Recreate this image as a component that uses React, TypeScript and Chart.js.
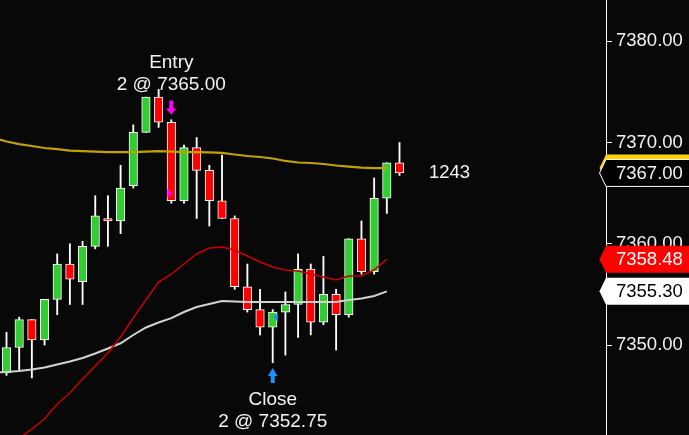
import React, { useEffect, useRef } from "react";
import { Chart, registerables } from "chart.js";

Chart.register(...registerables);

// ---- Data ----
const opens = [
  7347.25, 7349.75, 7352.5, 7350.5, 7354.5, 7358.0, 7356.25, 7359.75, 7362.5, 7362.25,
  7365.75, 7371.0, 7374.5, 7372.0, 7364.25, 7369.5, 7367.25, 7364.25, 7362.5, 7355.75,
  7353.5, 7351.75, 7353.25, 7354.0, 7357.5, 7352.25, 7355.0, 7353.0, 7360.5, 7357.25,
  7364.5, 7368.0,
];
const highs = [
  7351.25, 7352.75, 7352.5, 7354.5, 7359.0, 7360.0, 7360.25, 7364.75, 7364.75, 7367.75,
  7371.75, 7374.5, 7375.25, 7372.25, 7369.75, 7370.5, 7367.75, 7368.75, 7362.75, 7358.0,
  7355.5, 7353.5, 7355.25, 7359.0, 7358.0, 7358.75, 7355.5, 7360.5, 7362.25, 7366.5,
  7368.0, 7370.0,
];
const lows = [
  7347.0, 7347.5, 7346.75, 7350.0, 7353.0, 7354.0, 7354.0, 7359.5, 7359.75, 7361.0,
  7365.5, 7371.0, 7371.5, 7364.0, 7364.0, 7362.5, 7361.75, 7362.5, 7355.5, 7353.25,
  7351.0, 7348.25, 7349.0, 7350.75, 7351.0, 7352.0, 7349.5, 7352.75, 7357.0, 7357.0,
  7363.0, 7366.75,
];
const closes = [
  7349.75, 7352.5, 7350.5, 7354.5, 7358.0, 7356.5, 7359.75, 7362.75, 7362.25, 7365.5,
  7371.0, 7374.5, 7372.0, 7364.25, 7369.5, 7367.25, 7364.25, 7362.5, 7355.75, 7353.5,
  7351.75, 7353.25, 7354.0, 7357.5, 7352.25, 7355.0, 7353.0, 7360.5, 7357.25, 7364.5,
  7368.0, 7367.0,
];

// Moving averages, first value belongs to bar index -1 (just left of the view)
const maStartIndex = -1;
const yellowMA = [
  7370.45, 7370.1, 7369.85, 7369.66, 7369.46, 7369.35, 7369.21, 7369.16, 7369.11, 7369.06,
  7369.06, 7369.06, 7369.11, 7369.16, 7369.11, 7369.06, 7369.06, 7369.02, 7368.97, 7368.82,
  7368.67, 7368.57, 7368.42, 7368.18, 7368.03, 7367.98, 7367.88, 7367.73, 7367.63, 7367.53,
  7367.48, 7367.48,
];
const redMA = [
  7339.4, 7340.02, 7340.81, 7341.7, 7342.69, 7344.17, 7345.26, 7346.64, 7347.92, 7349.21,
  7350.79, 7352.67, 7354.44, 7356.22, 7357.01, 7358.0, 7358.99, 7359.58, 7359.68, 7359.38,
  7358.79, 7358.2, 7357.7, 7357.41, 7357.31, 7357.01, 7356.72, 7356.42, 7356.82, 7356.82,
  7357.41, 7358.48,
];
const whiteMA = [
  7347.28, 7347.33, 7347.43, 7347.58, 7347.78, 7348.07, 7348.37, 7348.71, 7349.16, 7349.65,
  7350.17, 7350.99, 7351.73, 7352.22, 7352.66, 7353.26, 7353.75, 7354.05, 7354.35, 7354.3,
  7354.25, 7354.25, 7354.25, 7354.25, 7354.25, 7354.25, 7354.25, 7354.25, 7354.44, 7354.59,
  7354.84, 7355.3,
];

const yTickStep = 10;
const yMin = 7341.11;
const yMax = 7384.08;
const xMin = -0.513;
const xMax = 47.29;

const entryTrade = { label: "Entry", index: 13, qty: 2, price: 7365.0 };
const closeTrade = { label: "Close", index: 21, qty: 2, price: 7352.75 };
const counterLabel = "1243";

// ---- Styles ----
const BG = "#080808";
const UP = "#32cd32";
const DOWN = "#ff0000";
const YELLOW_LINE = "#c2a200";
const YELLOW_TAG = "#ffd200";
const RED_LINE = "#c80000";
const WHITE_LINE = "#d2d2d2";
const FONT = '"Liberation Sans", Arial, Helvetica, sans-serif';

const W = 689;
const H = 435;
const AXIS_W = 83;

const maPoints = (arr: number[]) => arr.map((v, i) => ({ x: i + maStartIndex, y: v }));

const annotPlugin = {
  id: "annots",
  beforeDraw(chart: any) {
    const { ctx } = chart;
    ctx.save();
    ctx.fillStyle = BG;
    ctx.fillRect(0, 0, chart.width, chart.height);
    ctx.restore();
  },
  afterDatasetsDraw(chart: any) {
    const { ctx } = chart;
    const xs = chart.scales.x;
    const ys = chart.scales.y;
    ctx.save();

    // Entry marker
    {
      const cx = xs.getPixelForValue(entryTrade.index);
      const tip = ys.getPixelForValue(highs[entryTrade.index]) - 5.3;
      ctx.fillStyle = "#ff00ff";
      ctx.fillRect(cx - 2, tip - 14, 4, 8.5);
      ctx.beginPath();
      ctx.moveTo(cx - 5.3, tip - 6);
      ctx.lineTo(cx + 5.3, tip - 6);
      ctx.lineTo(cx, tip);
      ctx.closePath();
      ctx.fill();
      // triangle at entry price
      const py = ys.getPixelForValue(entryTrade.price);
      ctx.beginPath();
      ctx.moveTo(cx - 4, py - 4.5);
      ctx.lineTo(cx + 1.2, py);
      ctx.lineTo(cx - 4, py + 4.5);
      ctx.closePath();
      ctx.fill();
      ctx.fillStyle = "#f2f2f2";
      ctx.font = `19px ${FONT}`;
      ctx.textAlign = "center";
      ctx.textBaseline = "middle";
      ctx.fillText(entryTrade.label, cx, tip - 51.3);
      ctx.fillText(`${entryTrade.qty} @ ${entryTrade.price.toFixed(2)}`, cx, tip - 30);
    }

    // Close marker
    {
      const cx = xs.getPixelForValue(closeTrade.index);
      const tip = ys.getPixelForValue(lows[closeTrade.index]) + 5.3;
      ctx.fillStyle = "#1e90ff";
      ctx.beginPath();
      ctx.moveTo(cx - 4.8, tip + 8);
      ctx.lineTo(cx + 4.8, tip + 8);
      ctx.lineTo(cx, tip);
      ctx.closePath();
      ctx.fill();
      ctx.fillRect(cx - 2, tip + 7.5, 4, 7.5);
      const py = ys.getPixelForValue(closeTrade.price);
      ctx.beginPath();
      ctx.moveTo(cx + 5, py - 4.5);
      ctx.lineTo(cx + 0.6, py);
      ctx.lineTo(cx + 5, py + 4.5);
      ctx.closePath();
      ctx.fill();
      ctx.fillStyle = "#f2f2f2";
      ctx.font = `19px ${FONT}`;
      ctx.textAlign = "center";
      ctx.textBaseline = "middle";
      ctx.fillText(closeTrade.label, cx, tip + 31.3);
      ctx.fillText(`${closeTrade.qty} @ ${closeTrade.price.toFixed(2)}`, cx, tip + 53.7);
    }

    // counter text beside last bar
    {
      const last = closes.length - 1;
      const x = xs.getPixelForValue(last) + 29.5;
      const y = ys.getPixelForValue(closes[last]);
      ctx.fillStyle = "#f2f2f2";
      ctx.font = `18.5px ${FONT}`;
      ctx.textAlign = "left";
      ctx.textBaseline = "middle";
      ctx.fillText(counterLabel, x, y);
    }
    ctx.restore();
  },
  afterDraw(chart: any) {
    const { ctx, chartArea } = chart;
    const ys = chart.scales.y;
    const left = chartArea.right;
    const tipX = left - 6.5;
    const right = chart.width + 2;
    const hh = 13.5;
    const tag = (value: number, fill: string, stroke: string | null, textColor: string | null) => {
      const y = ys.getPixelForValue(value);
      ctx.beginPath();
      ctx.moveTo(left, y - hh);
      ctx.lineTo(right, y - hh);
      ctx.lineTo(right, y + hh);
      ctx.lineTo(left, y + hh);
      ctx.lineTo(tipX, y);
      ctx.closePath();
      ctx.fillStyle = fill;
      ctx.fill();
      if (stroke) {
        ctx.strokeStyle = stroke;
        ctx.lineWidth = 1;
        ctx.stroke();
      }
      if (textColor) {
        ctx.fillStyle = textColor;
        ctx.font = `18.5px ${FONT}`;
        ctx.textAlign = "left";
        ctx.textBaseline = "middle";
        ctx.fillText(value.toFixed(2), left + 10, y + 0.5);
      }
    };
    ctx.save();
    tag(yellowMA[yellowMA.length - 1], YELLOW_TAG, null, null);
    tag(closes[closes.length - 1], "#000000", "#ffffff", "#f2f2f2");
    tag(redMA[redMA.length - 1], DOWN, null, "#ffffff");
    tag(whiteMA[whiteMA.length - 1], "#ffffff", null, "#000000");
    ctx.restore();
  },
};

export default function App() {
  const ref = useRef<HTMLCanvasElement | null>(null);

  useEffect(() => {
    if (!ref.current) return;
    const idx = opens.map((_, i) => i);
    const bodyColors = idx.map((i) => (closes[i] >= opens[i] ? UP : DOWN));

    const chart = new Chart(ref.current, {
      type: "bar",
      data: {
        datasets: [
          {
            type: "line",
            data: maPoints(yellowMA),
            borderColor: YELLOW_LINE,
            borderWidth: 2.2,
            pointRadius: 0,
            tension: 0,
            order: 0,
          } as any,
          {
            type: "line",
            data: maPoints(redMA),
            borderColor: RED_LINE,
            borderWidth: 1.5,
            pointRadius: 0,
            tension: 0,
            order: 0,
          } as any,
          {
            type: "line",
            data: maPoints(whiteMA),
            borderColor: WHITE_LINE,
            borderWidth: 2,
            pointRadius: 0,
            tension: 0,
            order: 0,
          } as any,
          {
            type: "bar",
            data: idx.map((i) => ({ x: i, y: [opens[i], closes[i]] })),
            backgroundColor: bodyColors,
            borderColor: "#ffffff",
            borderWidth: 1,
            borderSkipped: false,
            barThickness: 8.5,
            grouped: false,
            order: 1,
          } as any,
          {
            type: "bar",
            data: idx.map((i) => ({ x: i, y: [lows[i], highs[i]] })),
            backgroundColor: "#ffffff",
            borderWidth: 0,
            barThickness: 1.2,
            grouped: false,
            order: 2,
          } as any,
        ],
      },
      options: {
        animation: false,
        responsive: false,
        devicePixelRatio: 1,
        layout: { padding: 0 },
        plugins: {
          legend: { display: false },
          tooltip: { enabled: false },
        },
        scales: {
          x: {
            type: "linear",
            display: false,
            min: xMin,
            max: xMax,
            offset: false,
          },
          y: {
            type: "linear",
            position: "right",
            min: yMin,
            max: yMax,
            afterFit: (s: any) => {
              s.width = AXIS_W;
              s.paddingTop = 0;
              s.paddingBottom = 0;
            },
            border: { display: true, color: "#ffffff", width: 1 },
            grid: {
              drawOnChartArea: false,
              drawTicks: true,
              tickLength: 6,
              color: "#ffffff",
              tickColor: "#ffffff",
              lineWidth: 1,
            },
            ticks: {
              stepSize: yTickStep,
              includeBounds: false,
              color: "#f2f2f2",
              padding: 4,
              font: { family: FONT, size: 18.5 },
              callback: (v: any) => Number(v).toFixed(2),
            },
          },
        },
      } as any,
      plugins: [annotPlugin],
    });
    return () => chart.destroy();
  }, []);

  return (
    <div style={{ position: "fixed", left: 0, top: 0, width: W, height: H, background: BG }}>
      <canvas ref={ref} width={W} height={H} style={{ display: "block", width: W, height: H }} />
    </div>
  );
}
